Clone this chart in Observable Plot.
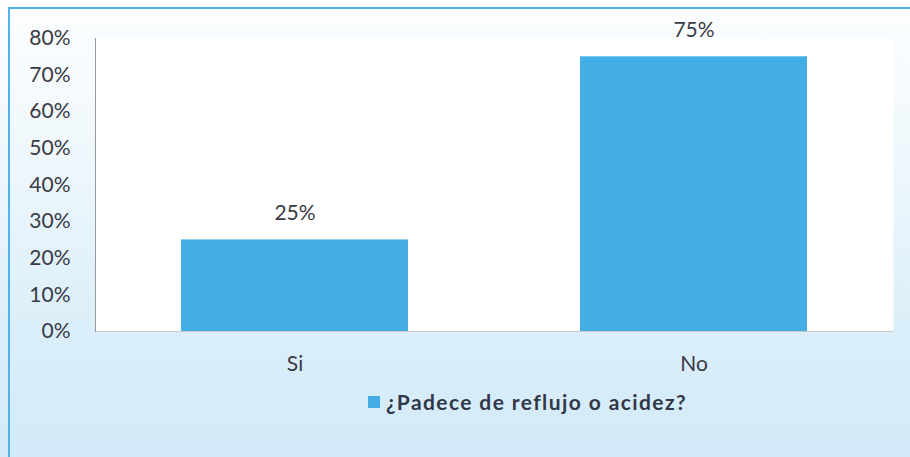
<!DOCTYPE html>
<html><head><meta charset="utf-8">
<script src="https://cdn.jsdelivr.net/npm/d3@7"></script>
<script src="https://cdn.jsdelivr.net/npm/@observablehq/plot@0.6"></script>
<style>
body{margin:0;}
#wrap{position:relative;width:910px;height:457px;overflow:hidden;background:linear-gradient(to bottom,#fdfeff 0%,#eef7fc 35%,#d9eef9 75%,#d3eaf8 100%);font-family:Lato,"Open Sans",sans-serif;}
#border{position:absolute;left:8px;top:7px;width:1000px;height:600px;border:2px solid #4fb2ea;box-sizing:border-box;}
#chart{position:absolute;left:0;top:0;}
#legend{position:absolute;left:368px;top:389px;display:flex;align-items:center;font-weight:bold;font-size:21px;letter-spacing:1.4px;color:#33374a;}
#legend .sw{width:12px;height:12px;margin-right:6px;}
</style></head>
<body><div id="wrap"><div id="border"></div><div id="chart"></div><div id="legend"><span class="sw"></span><span id="ltext"></span></div></div>
<script>
const categories = ["Si", "No"];
const values = [25, 75];
const yTicks = [0, 10, 20, 30, 40, 50, 60, 70, 80];
const seriesName = "¿Padece de reflujo o acidez?";
const barColor = "#43ade6";

const data = categories.map((c, i) => ({cat: c, v: values[i]}));
const chart = Plot.plot({
  width: 910, height: 385,
  marginLeft: 95, marginRight: 17, marginTop: 38, marginBottom: 54,
  style: {background: "transparent", fontFamily: "Lato, 'Open Sans', sans-serif", fontSize: "21px", color: "#3a3a44"},
  x: {domain: categories, paddingInner: 0.43, paddingOuter: 0.215, label: null, tickSize: 0, tickPadding: 25},
  y: {domain: [0, 80], ticks: yTicks, tickFormat: d => d + "%", label: null, tickSize: 0, tickPadding: 25},
  marks: [
    Plot.frame({fill: "white", stroke: null}),
    Plot.ruleY([0], {stroke: "#c8c8c8"}),
    Plot.frame({anchor: "left", stroke: "#9a9a9a"}),
    Plot.barY(data, {x: "cat", y: "v", fill: barColor}),
    Plot.text(data, {x: "cat", y: "v", text: d => d.v + "%", dy: -27, fill: "#3a3a44", fontSize: 21})
  ]
});
document.getElementById("chart").appendChild(chart);
document.querySelector("#legend .sw").style.background = barColor;
document.getElementById("ltext").textContent = seriesName;
</script></body></html>
